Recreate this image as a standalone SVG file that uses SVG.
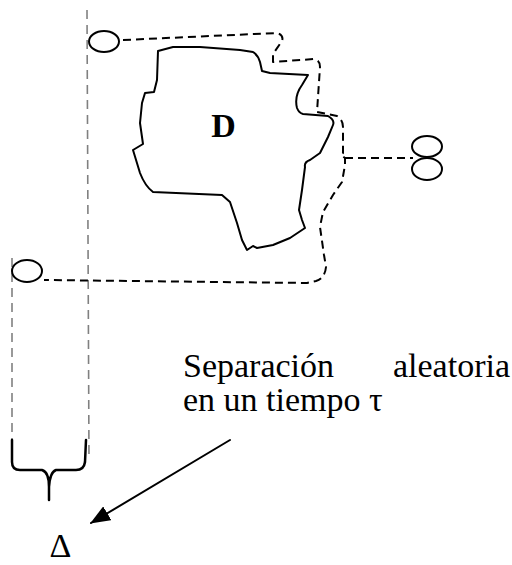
<svg xmlns="http://www.w3.org/2000/svg" width="512" height="565" viewBox="0 0 512 565">
<style>
.guide{fill:none;stroke:#808080;stroke-width:1.6;stroke-dasharray:9 6}
.dash{fill:none;stroke:#000;stroke-width:2;stroke-dasharray:8 5;stroke-linejoin:round}
.solid{fill:none;stroke:#000;stroke-width:2;stroke-linejoin:round;stroke-linecap:round}
.txt{font-family:"Liberation Serif","Times New Roman",serif;font-size:34px;fill:#000}
</style>
<defs>
<marker id="ah2" viewBox="0 0 20 16" refX="19" refY="8" markerWidth="20" markerHeight="16" markerUnits="userSpaceOnUse" orient="auto">
<path d="M0 0 L20 8 L0 16 Z" fill="#000"/>
</marker>
</defs>
<g id="guides">
<path class="guide" d="M87 10 L89 460"/>
<path class="guide" d="M12 258 L12 440"/>
</g>
<g id="connectors">
<path class="dash" d="M123 40 L277 33 Q284 35 282 41 L273 54 L273 62 L314 59 Q320 60 320 67 L317 112 L337 116 Q343 120 343 127 L343 153 L341 155 L345 158 L345 165 L342 182 L333 195 L323 212 L320 227 L324 255 L326 267 Q325 278 316 281 L307 283 L44 280"/>
<path class="dash" d="M345 158 L413 158"/>
<path class="solid" d="M230 440 L91 523" marker-end="url(#ah2)"/>
</g>
<g id="particle-top">
<ellipse class="solid" cx="104" cy="41.5" rx="15" ry="10.5"/>
</g>
<g id="particle-bottom">
<ellipse class="solid" cx="27" cy="271" rx="15" ry="11"/>
</g>
<g id="particle-pair">
<ellipse class="solid" cx="427" cy="146.5" rx="15" ry="10.5"/>
<ellipse class="solid" cx="427" cy="169" rx="15" ry="11"/>
</g>
<g id="domain-D">
<path class="solid" d="M158 51 L173 47 L200 47 L240 50 L253 52 Q258 55 260 62 L262 71 L270 73 L308 75 L302 85 Q294 96 297 108 Q299 113 303 114 L328 116 Q335 120 333 125 L328 137 L320 153 L310 160 Q304 162 305 167 L302 190 L299 210 L302 220 L305 228 L290 238 L273 245 L257 248 L253 246 L247 250 L242 240 L237 223 L230 202 L222 195 L153 192 Q145 186 140 173 L133 150 L143 144 L140 123 L142 103 L145 93 L154 92 L157 80 Z"/>
<text class="txt" x="223.5" y="137" text-anchor="middle" font-weight="bold" font-size="32">D</text>
</g>
<g id="brace">
<path class="solid" style="stroke-width:2.5" d="M12 440 L12 462 Q12 470 20 470 L42 470 Q49 472 49 487 L49 500 M86 440 L85 462 Q84 470 76 470 L56 470 Q50 472 49 487"/>
</g>
<g id="labels">
<text class="txt" x="183" y="377">Separación</text>
<text class="txt" x="510" y="377" text-anchor="end">aleatoria</text>
<text class="txt" x="183" y="411">en un tiempo τ</text>
<text class="txt" x="60.5" y="557" text-anchor="middle">Δ</text>
</g>
</svg>
